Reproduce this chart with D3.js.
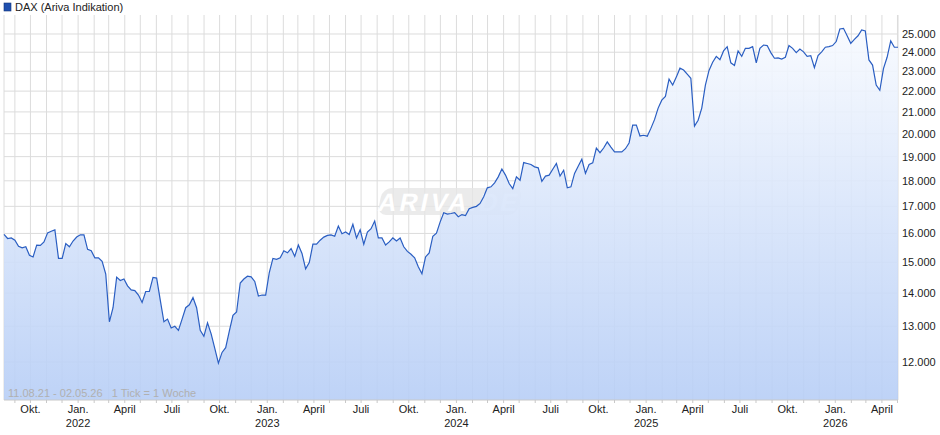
<!DOCTYPE html>
<html><head><meta charset="utf-8">
<script src="https://cdn.jsdelivr.net/npm/d3@7"></script>
<style>body{margin:0;background:#fff}svg{display:block;font-family:"Liberation Sans",Arial,sans-serif}</style>
</head><body><svg id="chart" width="940" height="435"></svg>
<script>
// weekly closes (11.08.21 - 02.05.26)
const startDate = new Date(2021, 7, 11);
const endDate = new Date(2026, 4, 2);
const closes = [
  15970,15820,15840,15760,15550,15490,15530,15240,15180,15590,15580,15700,16020,16080,16130,15130,15130,15640,15530,15730,
  15870,15950,15950,15440,15390,15150,15150,15030,14610,13130,13550,14510,14400,14450,14230,14100,14080,13940,13710,14050,
  14050,14500,14480,13780,13130,13210,12950,13000,12880,13210,13550,13640,13860,13550,12880,12710,13100,12780,12370,11970,
  12260,12390,12860,13320,13420,14320,
  14450,14540,14520,14370,13910,13940,13940,14660,15130,15100,15150,15390,15320,15470,15200,15590,15300,14780,14990,15620,
  15620,15760,15870,15930,15950,15900,16270,15990,16050,15960,16330,15840,16130,15620,16050,16170,16450,15840,15840,15590,
  15700,15840,15730,15840,15530,15370,15270,15150,14850,14620,15180,15320,15900,16010,16410,16760,16710,16730,16760,16610,
  16690,16650,16910,
  16960,17000,17110,17370,17720,17760,17920,18160,18480,18230,17890,17690,18160,18020,18750,18710,18670,18570,18530,17980,
  18190,18230,18470,18710,18190,18430,17720,17760,18300,18600,18890,18300,18670,18740,19370,19170,19370,19640,19410,19200,
  19200,19200,19340,19590,20390,20390,19900,19930,19890,20240,20640,
  21180,21560,21740,22600,22300,22700,23160,23060,22850,22640,20340,20610,21180,22300,23040,23470,23780,23600,24070,24300,
  23440,23300,24070,23780,24210,24210,24300,23440,24210,24390,24360,23980,23680,23700,23640,23730,24360,24210,23980,24170,
  24020,23780,23820,23190,23820,24020,24270,24300,24360,24580,25280,25320,24900,24480,24700,24900,25230,25170,23590,23320,
  22300,22040,23140,23730,24620,24270,24270
];
const yTicks = [12000,13000,14000,15000,16000,17000,18000,19000,20000,21000,22000,23000,24000,25000];
const monthNames = {0:"Jan.",3:"April",6:"Juli",9:"Okt."};
const title = "DAX (Ariva Indikation)";
const footNote = "11.08.21 - 02.05.26   1 Tick = 1 Woche";

const step = (endDate - startDate) / (closes.length - 1);
const data = closes.map((v, i) => ({ date: new Date(+startDate + i * step), value: v }));

const plot = { left: 4, right: 898, top: 15, bottom: 400 };
const svg = d3.select("#chart");

const x = d3.scaleTime().domain([startDate, endDate]).range([plot.left, plot.right]);
const y = d3.scaleLog().domain([11022, 26085]).range([plot.bottom, plot.top]);

const defs = svg.append("defs");
const grad = defs.append("linearGradient").attr("id", "fill")
  .attr("gradientUnits", "userSpaceOnUse")
  .attr("x1", 0).attr("x2", 0).attr("y1", plot.top).attr("y2", plot.bottom);
grad.append("stop").attr("offset", "0%").attr("stop-color", "#fafcff");
grad.append("stop").attr("offset", "100%").attr("stop-color", "#b7cef6");

// grid
const months = d3.timeMonth.range(d3.timeMonth.ceil(startDate), endDate);
svg.append("g").selectAll("line").data(months).join("line")
  .attr("x1", d => x(d)).attr("x2", d => x(d))
  .attr("y1", plot.top).attr("y2", plot.bottom)
  .attr("stroke", "#dcdcdc");
svg.append("g").selectAll("line").data(yTicks).join("line")
  .attr("x1", plot.left).attr("x2", plot.right)
  .attr("y1", d => y(d)).attr("y2", d => y(d))
  .attr("stroke", "#dcdcdc");
svg.append("line").attr("x1", plot.left).attr("x2", plot.left)
  .attr("y1", plot.top).attr("y2", plot.bottom).attr("stroke", "#dcdcdc");
svg.append("line").attr("x1", plot.right).attr("x2", plot.right)
  .attr("y1", plot.top).attr("y2", plot.bottom).attr("stroke", "#dcdcdc");

// watermark (behind the area)
const wm = svg.append("g").attr("transform", "translate(450,201) skewX(-12)");
wm.append("rect").attr("x", -70).attr("y", -13).attr("width", 140).attr("height", 27)
  .attr("rx", 9).attr("fill", "#e6e6e6").attr("opacity", 0.8);
wm.append("text").attr("x", 0).attr("y", 10).attr("text-anchor", "middle")
  .attr("font-size", 25).attr("font-weight", "bold")
  .attr("fill", "#fff").attr("letter-spacing", 3).text("ARIVA.DE");

// area + line
svg.append("path").datum(data)
  .attr("fill", "url(#fill)").attr("fill-opacity", 0.9)
  .attr("d", d3.area().x(d => x(d.date)).y0(plot.bottom).y1(d => y(d.value)));

svg.append("path").datum(data)
  .attr("fill", "none").attr("stroke", "#2a5ec2").attr("stroke-width", 1.2)
  .attr("d", d3.line().x(d => x(d.date)).y(d => y(d.value)));

// x axis
svg.append("line").attr("x1", plot.left).attr("x2", plot.right)
  .attr("y1", plot.bottom).attr("y2", plot.bottom).attr("stroke", "#c8c8c8");
svg.append("g").selectAll("line").data(months).join("line")
  .attr("x1", d => x(d)).attr("x2", d => x(d))
  .attr("y1", plot.bottom).attr("y2", plot.bottom + 3).attr("stroke", "#c8c8c8");
const labelled = months.filter(d => monthNames[d.getMonth()] !== undefined);
svg.append("g").selectAll("text").data(labelled).join("text")
  .attr("x", d => x(d)).attr("y", 413).attr("text-anchor", "middle")
  .attr("font-size", 11).attr("fill", "#222")
  .text(d => monthNames[d.getMonth()]);
svg.append("g").selectAll("text").data(labelled.filter(d => d.getMonth() === 0)).join("text")
  .attr("x", d => x(d)).attr("y", 427).attr("text-anchor", "middle")
  .attr("font-size", 11).attr("fill", "#222")
  .text(d => d.getFullYear());

// y axis (right)
svg.append("g").selectAll("text").data(yTicks).join("text")
  .attr("x", 902).attr("y", d => y(d) + 4)
  .attr("font-size", 11).attr("fill", "#222")
  .text(d => d3.format(",")(d).replace(/,/g, "."));

// legend + footnote
svg.append("rect").attr("x", 4).attr("y", 3).attr("width", 7).attr("height", 8)
  .attr("fill", "#1f4fae").attr("stroke", "#12357a").attr("stroke-width", 0.6);
svg.append("text").attr("x", 15).attr("y", 11).attr("font-size", 11).attr("fill", "#222").text(title);
svg.append("text").attr("x", 8).attr("y", 397).attr("font-size", 11).attr("fill", "#b0b0b0")
  .style("white-space", "pre").text(footNote);
</script></body></html>
